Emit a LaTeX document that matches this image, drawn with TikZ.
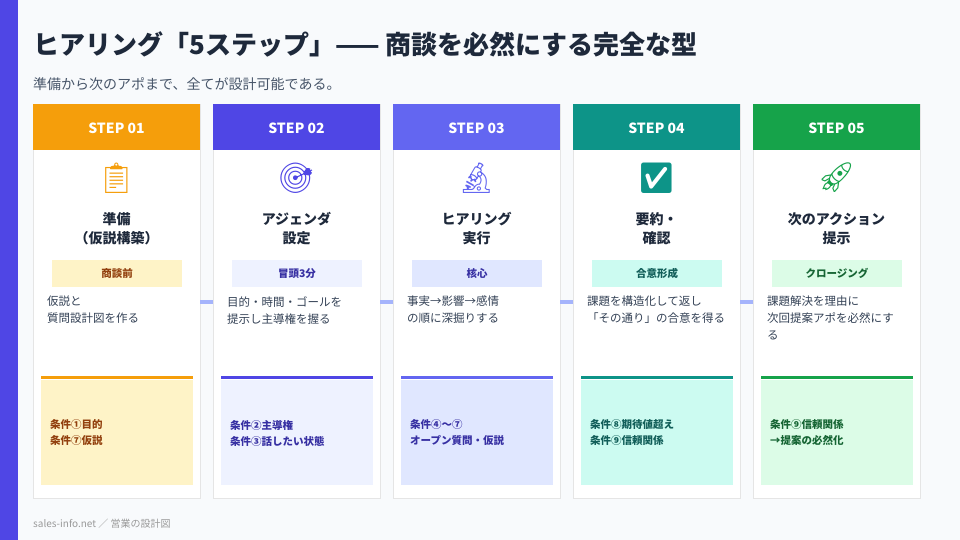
\documentclass[tikz,border=0pt]{standalone}
\usepackage{fontspec}
\setmainfont{Noto Sans CJK JP}
\newfontfamily\emo{Noto Emoji}
\definecolor{bg}{HTML}{F8FAFC}
\definecolor{ink}{HTML}{1E293B}
\definecolor{sub}{HTML}{475569}
\definecolor{body}{HTML}{334155}
\definecolor{purp}{HTML}{4F46E5}
\definecolor{cA}{HTML}{F59E0B}\definecolor{cB}{HTML}{4F46E5}\definecolor{cC}{HTML}{6366F1}\definecolor{cD}{HTML}{0D9488}\definecolor{cE}{HTML}{16A34A}
\definecolor{lA}{HTML}{FEF3C7}\definecolor{lB}{HTML}{EEF2FF}\definecolor{lC}{HTML}{E0E7FF}\definecolor{lD}{HTML}{CCFBF1}\definecolor{lE}{HTML}{DCFCE7}
\definecolor{tA}{HTML}{92400E}\definecolor{tB}{HTML}{3730A3}\definecolor{tC}{HTML}{3730A3}\definecolor{tD}{HTML}{115E59}\definecolor{tE}{HTML}{166534}
\definecolor{conn}{HTML}{A5B4FC}
\begin{document}
\begin{tikzpicture}[x=1pt,y=-1pt,
  card/.style={fill=white,draw=black!10,line width=0.8pt},
  desc/.style={anchor=north west,align=left,font=\fontsize{11.5}{17}\selectfont,text=body,inner sep=0pt},
  ttl/.style={align=center,font=\bfseries\fontsize{14}{19}\selectfont,text=ink,inner sep=0pt},
  tag/.style={font=\bfseries\fontsize{10.5}{12}\selectfont,inner sep=0pt},
  cond/.style={anchor=west,align=left,font=\bfseries\fontsize{10.5}{16}\selectfont,inner sep=0pt}]
\fill[bg] (0,0) rectangle (960,540);
\useasboundingbox (0,0) rectangle (960,540);
\fill[purp] (0,0) rectangle (18,540);
\node[anchor=west,inner sep=0pt,font=\bfseries\fontsize{26}{30}\selectfont,text=ink] (title) at (33,44) {ヒアリング「5ステップ」—— 商談を必然にする完全な型};
\node[anchor=west,inner sep=0pt,font=\fontsize{14}{16}\selectfont,text=sub] (subt) at (33,84) {準備から次のアポまで、全てが設計可能である。};
\foreach \i/\c/\l/\t/\e/\ti/\tg/\d/\cn [count=\k] in {
 0/cA/lA/tA/📋/{準備\\（仮説構築）}/商談前/{仮説と\\質問設計図を作る}/{条件①目的\\条件⑦仮説},
 180/cB/lB/tB/🎯/{アジェンダ\\設定}/冒頭3分/{目的・時間・ゴールを\\提示し主導権を握る}/{条件②主導権\\条件③話したい状態},
 360/cC/lC/tC/🔬/{ヒアリング\\実行}/核心/{事実→影響→感情\\の順に深掘りする}/{条件④〜⑦\\オープン質問・仮説},
 540/cD/lD/tD/✅/{要約・\\確認}/合意形成/{課題を構造化して返し\\「その通り」の合意を得る}/{条件⑧期待値超え\\条件⑨信頼関係},
 720/cE/lE/tE/🚀/{次のアクション\\提示}/クロージング/{課題解決を理由に\\次回提案アポを必然にす\\る}/{条件⑨信頼関係\\→提案の必然化}}{
  \draw[card] (33+\i,104) rectangle (200+\i,498);
  \fill[\c] (33+\i,104) rectangle (200+\i,150);
  \node[text=white,font=\bfseries\fontsize{14}{16}\selectfont] (h\k) at (116.5+\i,128) {STEP 0\k};
  \node[font=\emo\fontsize{30}{32}\selectfont,text=\c] (e\k) at (116.5+\i,178) {\e};
  \node[ttl] (t\k) at (116.5+\i,229) {\ti};
  \fill[\l] (52+\i,260) rectangle (182+\i,287);
  \node[tag,text=\t] (g\k) at (117+\i,273.5) {\tg};
  \node[desc] (d\k) at (47+\i,296) {\d};
  \fill[\c] (41+\i,376) rectangle (193+\i,379);
  \fill[\l] (41+\i,380) rectangle (193+\i,485);
  \node[cond,text=\t] (c\k) at (50+\i,433) {\cn};
}
\foreach \a/\b in {1/2,2/3,3/4,4/5}{
  \coordinate (p\a) at (200+180*\a-180,302);
  \coordinate (q\a) at (213+180*\a-180,302);
  \draw[conn,line width=4pt] (p\a) -- (q\a);
}
\node[anchor=west,inner sep=0pt,font=\fontsize{10}{12}\selectfont,text=black!40] (foot) at (33,524) {sales-info.net ／ 営業の設計図};
\end{tikzpicture}
\end{document}
